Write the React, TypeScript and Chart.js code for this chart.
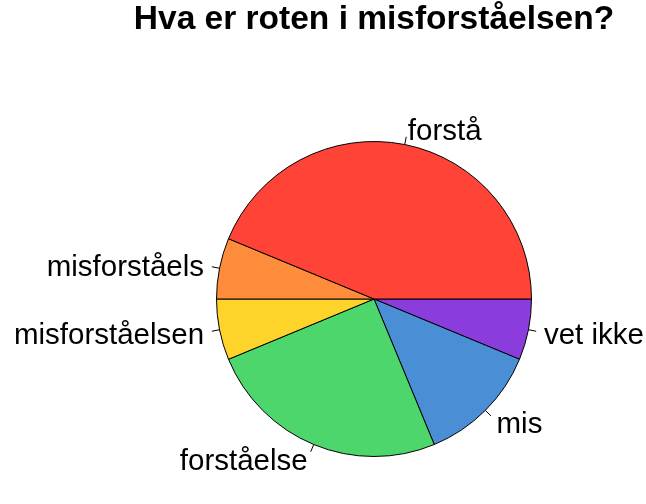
import React, { useEffect, useRef } from "react";
import { Chart, registerables } from "chart.js";

Chart.register(...registerables);

const TITLE = "Hva er roten i misforståelsen?";
const categories = ["forstå", "misforståels", "misforståelsen", "forståelse", "mis", "vet ikke"];
const counts = [7, 1, 1, 4, 2, 1];
const colors = ["#FF4337", "#FF8C3A", "#FFD42A", "#4CD66C", "#4A8ED6", "#8A3CDD"];

const labelPlugin = {
  id: "rPieLabels",
  afterDraw(chart: any) {
    const ctx = chart.ctx;
    const meta = chart.getDatasetMeta(0);
    const labels = chart.data.labels as string[];
    ctx.save();
    meta.data.forEach((arc: any, i: number) => {
      const { x, y, startAngle, endAngle, outerRadius } = arc.getProps(
        ["x", "y", "startAngle", "endAngle", "outerRadius"],
        true
      );
      const mid = (startAngle + endAngle) / 2;
      const c = Math.cos(mid);
      const s = Math.sin(mid);
      ctx.strokeStyle = "#000";
      ctx.lineWidth = 1;
      ctx.beginPath();
      ctx.moveTo(x + c * outerRadius, y + s * outerRadius);
      ctx.lineTo(x + c * outerRadius * 1.05, y + s * outerRadius * 1.05);
      ctx.stroke();
      ctx.fillStyle = "#000";
      ctx.font = "29.5px 'Liberation Sans', Arial, sans-serif";
      ctx.textBaseline = "middle";
      ctx.textAlign = c > 0 ? "left" : "right";
      ctx.fillText(labels[i], x + c * outerRadius * 1.1, y + s * outerRadius * 1.1 + 3);
    });
    ctx.font = "bold 33.5px 'Liberation Sans', Arial, sans-serif";
    ctx.textAlign = "center";
    ctx.textBaseline = "alphabetic";
    ctx.fillText(TITLE, 374, 29);
    ctx.restore();
  },
};

export default function App() {
  const ref = useRef<HTMLCanvasElement | null>(null);
  useEffect(() => {
    document.body.style.margin = "0";
    const labels = [...categories].reverse();
    const data = [...counts].reverse();
    const bg = [...colors].reverse();
    const chart = new Chart(ref.current!, {
      type: "pie",
      data: {
        labels,
        datasets: [
          {
            data,
            backgroundColor: bg,
            borderColor: "#000",
            borderWidth: 1,
            borderAlign: "center",
          },
        ],
      },
      options: {
        responsive: false,
        animation: false,
        rotation: 90,
        layout: { padding: { left: 216, right: 114, top: 141, bottom: 47 } },
        plugins: {
          legend: { display: false },
          tooltip: { enabled: false },
          title: { display: false },
        },
      },
      plugins: [labelPlugin],
    });
    return () => chart.destroy();
  }, []);
  return (
    <div style={{ width: 646, height: 504, background: "#fff" }}>
      <canvas ref={ref} width={646} height={504} style={{ display: "block" }} />
    </div>
  );
}
